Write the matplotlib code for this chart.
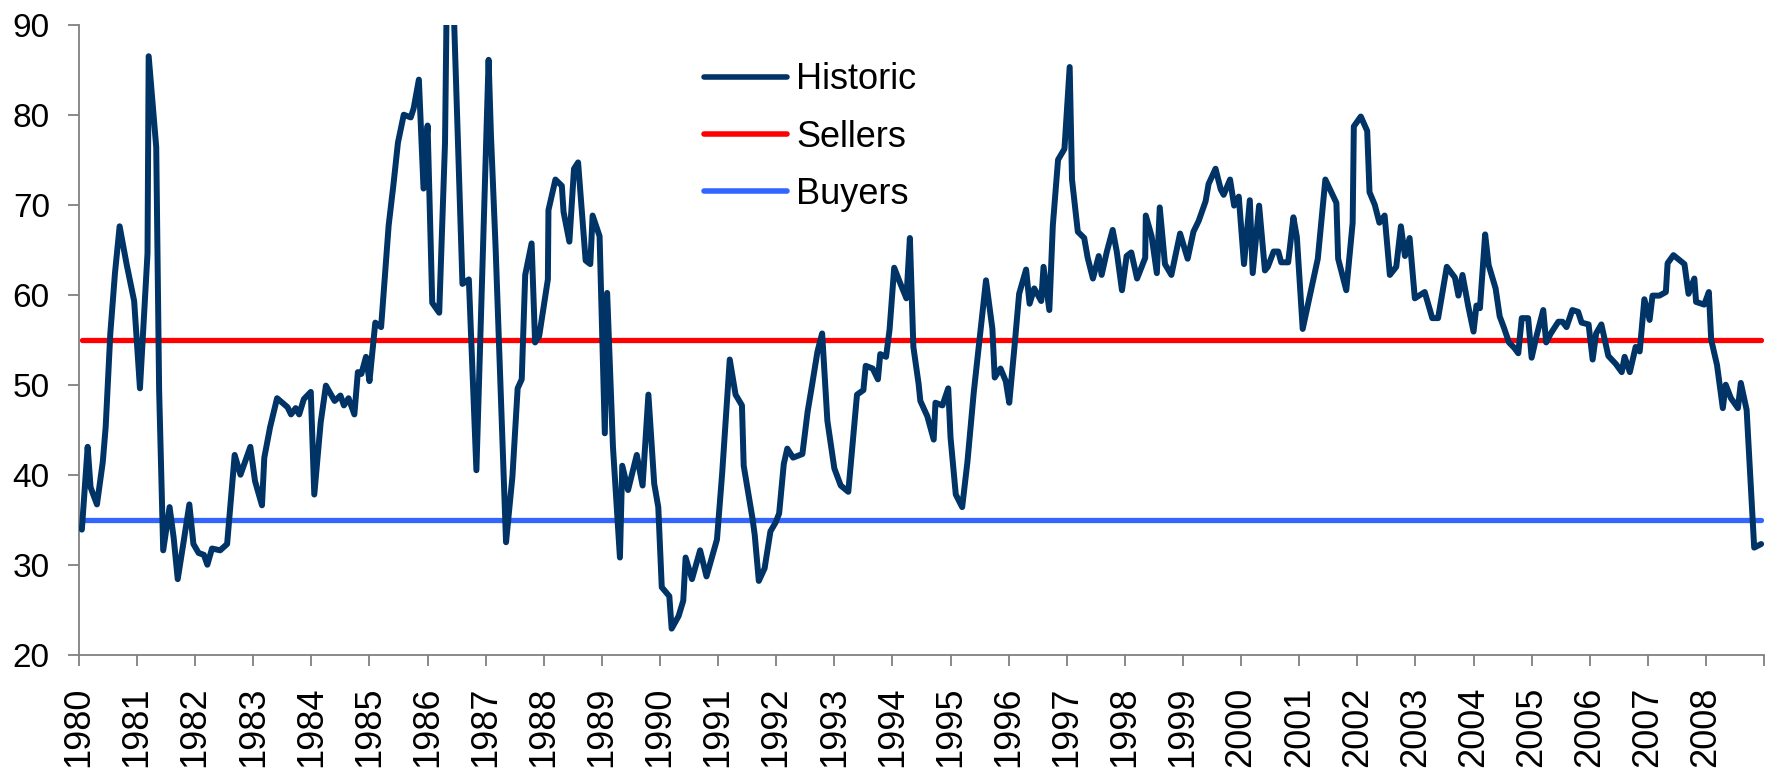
import matplotlib
matplotlib.use("Agg")
import matplotlib.pyplot as plt
from matplotlib.lines import Line2D
import numpy as np

# decimal year of each vertex of the historic series
dates = [
    1980.05, 1980.15, 1980.20, 1980.31, 1980.41, 1980.46, 1980.54, 1980.62, 1980.70, 1980.82,
    1980.95, 1981.05, 1981.18, 1981.20, 1981.33, 1981.38, 1981.45, 1981.56, 1981.63, 1981.70,
    1981.80, 1981.90, 1981.97, 1982.06, 1982.15, 1982.21, 1982.29, 1982.43, 1982.55, 1982.68,
    1982.78, 1982.95, 1983.03, 1983.15, 1983.19, 1983.29, 1983.41, 1983.59, 1983.65, 1983.73,
    1983.79, 1983.87, 1983.99, 1984.05, 1984.16, 1984.25, 1984.40, 1984.50, 1984.56, 1984.64,
    1984.74, 1984.80, 1984.86, 1984.94, 1985.00, 1985.10, 1985.20, 1985.33, 1985.41, 1985.49,
    1985.59, 1985.71, 1985.76, 1985.85, 1985.93, 1986.00, 1986.08, 1986.20, 1986.30, 1986.36,
    1986.60, 1986.71, 1986.84, 1987.05, 1987.09, 1987.17, 1987.35, 1987.46, 1987.55, 1987.62,
    1987.68, 1987.79, 1987.85, 1987.92, 1988.07, 1988.08, 1988.20, 1988.31, 1988.34, 1988.44,
    1988.52, 1988.59, 1988.72, 1988.80, 1988.84, 1988.96, 1989.05, 1989.09, 1989.19, 1989.31,
    1989.35, 1989.45, 1989.60, 1989.70, 1989.80, 1989.90, 1989.97, 1990.03, 1990.16, 1990.20,
    1990.32, 1990.40, 1990.44, 1990.55, 1990.69, 1990.80, 1990.98, 1991.07, 1991.20, 1991.30,
    1991.41, 1991.44, 1991.59, 1991.63, 1991.70, 1991.80, 1991.90, 1991.99, 1992.05, 1992.13,
    1992.19, 1992.29, 1992.45, 1992.54, 1992.62, 1992.71, 1992.79, 1992.88, 1993.00, 1993.11,
    1993.24, 1993.31, 1993.39, 1993.50, 1993.54, 1993.66, 1993.75, 1993.79, 1993.89, 1993.95,
    1994.03, 1994.12, 1994.24, 1994.30, 1994.36, 1994.45, 1994.48, 1994.60, 1994.71, 1994.74,
    1994.86, 1994.96, 1995.00, 1995.09, 1995.20, 1995.29, 1995.40, 1995.49, 1995.61, 1995.72,
    1995.76, 1995.86, 1995.95, 1996.01, 1996.10, 1996.18, 1996.30, 1996.36, 1996.44, 1996.56,
    1996.60, 1996.70, 1996.76, 1996.85, 1996.96, 1997.05, 1997.09, 1997.19, 1997.30, 1997.36,
    1997.45, 1997.55, 1997.60, 1997.69, 1997.79, 1997.86, 1997.95, 1998.03, 1998.11, 1998.21,
    1998.35, 1998.36, 1998.46, 1998.55, 1998.60, 1998.69, 1998.80, 1998.95, 1999.08, 1999.18,
    1999.27, 1999.39, 1999.44, 1999.56, 1999.65, 1999.70, 1999.81, 1999.88, 1999.96, 2000.05,
    2000.15, 2000.20, 2000.31, 2000.41, 2000.46, 2000.56, 2000.64, 2000.69, 2000.81, 2000.90,
    2000.96, 2001.06, 2001.17, 2001.32, 2001.45, 2001.64, 2001.67, 2001.81, 2001.92, 2001.94,
    2002.06, 2002.17, 2002.21, 2002.30, 2002.38, 2002.47, 2002.56, 2002.67, 2002.75, 2002.82,
    2002.90, 2002.99, 2003.16, 2003.29, 2003.39, 2003.54, 2003.68, 2003.74, 2003.81, 2003.91,
    2004.00, 2004.05, 2004.11, 2004.20, 2004.26, 2004.38, 2004.45, 2004.52, 2004.61, 2004.70,
    2004.77, 2004.83, 2004.94, 2005.00, 2005.08, 2005.20, 2005.25, 2005.33, 2005.46, 2005.53,
    2005.60, 2005.70, 2005.80, 2005.86, 2005.98, 2006.05, 2006.11, 2006.20, 2006.32, 2006.45,
    2006.55, 2006.60, 2006.69, 2006.79, 2006.86, 2006.94, 2007.03, 2007.08, 2007.20, 2007.31,
    2007.34, 2007.44, 2007.63, 2007.70, 2007.80, 2007.83, 2007.97, 2008.05, 2008.09, 2008.19,
    2008.29, 2008.34, 2008.43, 2008.55, 2008.60, 2008.70, 2008.83, 2008.95,
]

historic = [
    33.9, 43.1, 38.6, 36.7, 41.4, 45.3, 55.7, 62.4, 67.6, 63.4,
    59.3, 49.6, 64.6, 86.5, 76.4, 49.4, 31.6, 36.4, 33.0, 28.4,
    32.5, 36.7, 32.3, 31.3, 31.1, 30.0, 31.8, 31.6, 32.3, 42.2,
    40.0, 43.1, 39.3, 36.6, 41.9, 45.3, 48.5, 47.5, 46.7, 47.4,
    46.7, 48.4, 49.2, 37.8, 45.8, 49.9, 48.2, 48.8, 47.7, 48.5,
    46.7, 51.4, 51.2, 53.1, 50.4, 56.9, 56.4, 67.7, 72.1, 76.9,
    80.0, 79.7, 80.7, 83.9, 71.8, 78.8, 59.1, 58.0, 76.9, 110.0,
    61.2, 61.7, 40.5, 86.1, 77.8, 65.3, 32.5, 39.8, 49.6, 50.6,
    62.2, 65.7, 54.7, 55.4, 61.7, 69.4, 72.8, 72.1, 69.2, 65.9,
    74.0, 74.7, 63.8, 63.4, 68.8, 66.5, 44.6, 60.2, 43.1, 30.8,
    41.0, 38.3, 42.2, 38.8, 48.9, 39.0, 36.4, 27.5, 26.5, 22.9,
    24.3, 26.0, 30.8, 28.4, 31.6, 28.7, 32.8, 40.2, 52.8, 48.9,
    47.7, 41.0, 35.2, 33.3, 28.2, 29.6, 33.7, 34.7, 35.7, 41.2,
    42.9, 41.9, 42.3, 47.0, 50.1, 53.7, 55.7, 46.0, 40.7, 38.8,
    38.1, 43.1, 48.9, 49.4, 52.1, 51.8, 50.6, 53.4, 53.1, 56.1,
    63.0, 61.5, 59.6, 66.3, 54.2, 50.1, 48.2, 46.5, 43.9, 48.0,
    47.7, 49.6, 44.1, 37.8, 36.4, 41.4, 49.2, 54.5, 61.6, 56.2,
    50.8, 51.8, 50.4, 48.0, 54.2, 60.1, 62.8, 59.0, 60.7, 59.3,
    63.1, 58.3, 67.7, 75.0, 76.2, 85.3, 72.8, 67.0, 66.3, 64.1,
    61.8, 64.3, 62.2, 64.8, 67.2, 64.8, 60.5, 64.3, 64.7, 61.8,
    64.1, 68.8, 66.5, 62.4, 69.7, 63.4, 62.2, 66.8, 64.0, 67.0,
    68.2, 70.4, 72.3, 74.0, 71.7, 71.1, 72.8, 69.9, 70.9, 63.4,
    70.5, 62.4, 69.9, 62.7, 63.1, 64.8, 64.8, 63.6, 63.6, 68.6,
    66.4, 56.2, 59.5, 64.0, 72.8, 70.2, 64.0, 60.5, 68.0, 78.7,
    79.8, 78.2, 71.4, 70.0, 68.0, 68.8, 62.2, 63.1, 67.6, 64.3,
    66.3, 59.6, 60.3, 57.4, 57.4, 63.1, 61.9, 59.9, 62.2, 58.7,
    55.9, 58.8, 58.5, 66.7, 63.3, 60.7, 57.6, 56.4, 54.7, 54.1,
    53.5, 57.4, 57.4, 53.0, 55.3, 58.3, 54.7, 55.7, 57.0, 57.0,
    56.4, 58.3, 58.1, 56.9, 56.7, 52.8, 55.7, 56.7, 53.2, 52.3,
    51.4, 53.1, 51.4, 54.2, 53.7, 59.5, 57.2, 59.9, 59.9, 60.3,
    63.5, 64.4, 63.4, 60.1, 61.8, 59.2, 58.9, 60.3, 55.0, 52.2,
    47.4, 50.0, 48.5, 47.4, 50.2, 47.2, 31.9, 32.3,
]

sellers_level = 55
buyers_level = 35
years = list(range(1980, 2010))
year_labels = [str(y) for y in range(1980, 2009)] + [""]
y_ticks = [20, 30, 40, 50, 60, 70, 80, 90]

NAVY = "#003366"
RED = "#FF0000"
BLUE = "#3366FF"
AXIS_GREY = "#808080"

plt.rcParams["font.family"] = ["Liberation Sans", "DejaVu Sans"]

fig = plt.figure(figsize=(17.74, 7.68), dpi=100)
ax = fig.add_axes([0.0445, 0.1475, 0.9499, 0.8203])

x = np.array(dates)
ax.plot(x, historic, color=NAVY, lw=4.3, solid_joinstyle="round", solid_capstyle="round", zorder=3)
ax.plot(x[[0, -1]], [sellers_level] * 2, color=RED, lw=3.8, solid_capstyle="round", zorder=2)
ax.plot(x[[0, -1]], [buyers_level] * 2, color=BLUE, lw=3.8, solid_capstyle="round", zorder=2)

ax.set_xlim(1980, 2009)
ax.set_ylim(20, 90)
ax.set_xticks(years)
ax.set_xticklabels(year_labels, rotation=90, fontsize=26, va="top", ha="center")
ax.set_yticks(y_ticks)
ax.set_yticklabels([str(v) for v in y_ticks], fontsize=24)

for side in ["top", "right"]:
    ax.spines[side].set_visible(False)
for side in ["left", "bottom"]:
    ax.spines[side].set_color(AXIS_GREY)
    ax.spines[side].set_linewidth(1.3)
ax.tick_params(axis="both", direction="out", length=8, width=1.3, color=AXIS_GREY)
ax.tick_params(axis="x", pad=15)
ax.tick_params(axis="y", pad=13)

handles = [
    Line2D([], [], color=NAVY, lw=4.0, solid_capstyle="round"),
    Line2D([], [], color=RED, lw=4.0, solid_capstyle="round"),
    Line2D([], [], color=BLUE, lw=4.0, solid_capstyle="round"),
]
fig.legend(handles, ["Historic", "Sellers", "Buyers"], loc="upper left",
           bbox_to_anchor=(0.397, 0.919), bbox_transform=fig.transFigure,
           frameon=False, fontsize=26, handlelength=2.3, handletextpad=0.25,
           labelspacing=0.62, borderpad=0, borderaxespad=0)

fig.savefig("out.png", dpi=100)
